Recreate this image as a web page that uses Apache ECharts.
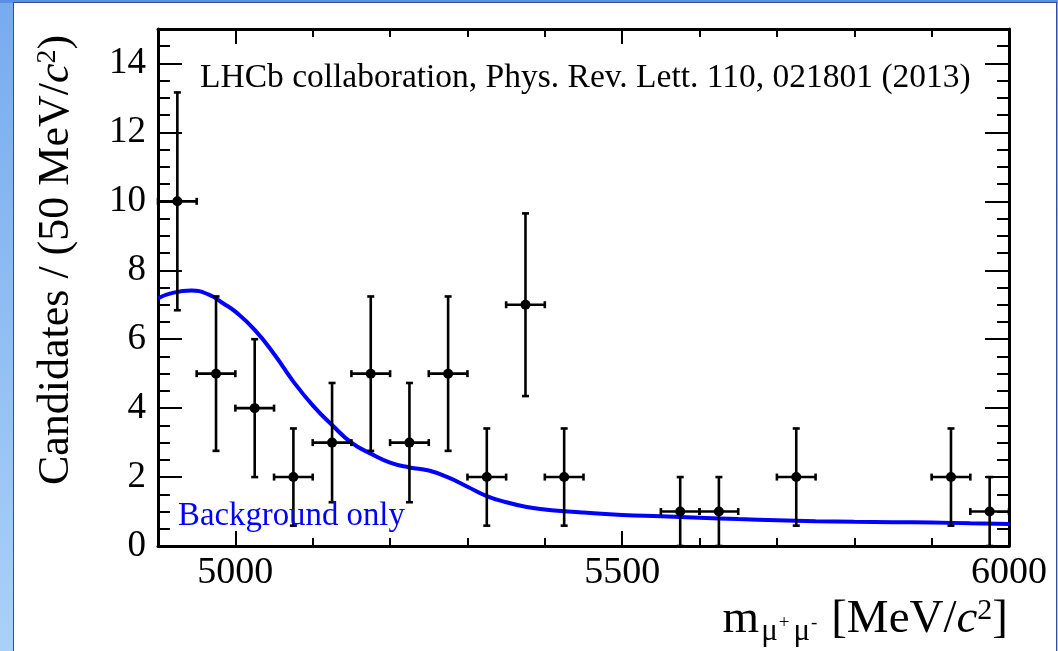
<!DOCTYPE html>
<html>
<head>
<meta charset="utf-8">
<script src="https://cdn.jsdelivr.net/npm/echarts@6/dist/echarts.min.js"></script>
<style>
  html, body { margin: 0; padding: 0; }
  body { width: 1058px; height: 651px; position: relative; overflow: hidden;
         background: linear-gradient(to bottom, #78abef 0%, #a9d1f8 100%); }
  #topstrip { position: absolute; left: 0; top: 0; width: 1058px; height: 3px; background: #5b8fe4; }
  #panel { position: absolute; left: 13px; top: 2px; width: 1042px; height: 650px;
           background: #ffffff; border-left: 1px solid #3b4a98; border-top: 1px solid #3b4a98; border-right: 1px solid #3b4a98; }
  #chart { position: absolute; left: 0; top: 0; width: 1058px; height: 651px; }
</style>
</head>
<body>
<div id="topstrip"></div>
<div id="panel"></div>
<div id="chart"></div>
<script>
// ---- data ----
const binCenters = [4925, 4975, 5025, 5075, 5125, 5175, 5225, 5275, 5325, 5375, 5425, 5575, 5625, 5725, 5925, 5975];
const counts     = [10, 5, 4, 2, 3, 5, 3, 5, 2, 7, 2, 1, 1, 2, 2, 1];
const countErrors = [3.16, 2.24, 2.0, 1.41, 1.73, 2.24, 1.73, 2.24, 1.41, 2.65, 1.41, 1.0, 1.0, 1.41, 1.41, 1.0];
const binHalfWidth = 25;

const fitMass = [4900, 4920, 4943, 4965, 4985, 5000, 5025, 5050, 5075, 5100, 5125, 5150, 5175, 5200, 5225, 5250, 5275, 5300, 5325, 5350, 5375, 5400, 5425, 5450, 5500, 5550, 5600, 5650, 5700, 5750, 5800, 5850, 5900, 5950, 6000];
const fitValues = [7.19, 7.35, 7.41, 7.30, 7.03, 6.80, 6.27, 5.57, 4.77, 4.08, 3.51, 3.00, 2.68, 2.42, 2.28, 2.19, 1.99, 1.72, 1.45, 1.27, 1.14, 1.06, 1.01, 0.97, 0.90, 0.86, 0.82, 0.78, 0.75, 0.72, 0.70, 0.69, 0.68, 0.66, 0.64];

const xTickLabels = [5000, 5500, 6000];
const yTickLabels = [0, 2, 4, 6, 8, 10, 12, 14];
const xRange = [4900, 6000];
const yRange = [0, 15];
const xMinorStep = 100;
const yMinorStep = 0.5;

const titleText = 'LHCb collaboration, Phys. Rev. Lett. 110, 021801 (2013)';
const fitLabel = 'Background only';

// ---- chart ----
const FONT = '"Liberation Serif", "Times New Roman", serif';
const chart = echarts.init(document.getElementById('chart'), null, { renderer: 'canvas' });

const pointData = binCenters.map((x, i) => [x, counts[i], countErrors[i]]);
const fitData = fitMass.map((x, i) => [x, fitValues[i]]);

function xAxisDef(pos, major) {
  const a = {
    type: 'value', position: pos, min: xRange[0], max: xRange[1],
    splitLine: { show: false },
    axisLine: { show: !major, onZero: false, lineStyle: { color: '#000', width: 3 } },
    axisTick: { show: true, inside: true, length: major ? 15 : 8, lineStyle: { color: '#000', width: 2 } },
    axisLabel: { show: false }
  };
  if (major) {
    a.axisTick.customValues = xTickLabels;
    if (pos === 'bottom') {
      a.axisLabel = { show: true, customValues: xTickLabels, formatter: v => String(v),
                      fontFamily: FONT, fontSize: 38, color: '#000', margin: 8 };
    }
  } else {
    a.interval = xMinorStep;
  }
  return a;
}
function yAxisDef(pos, major) {
  const a = {
    type: 'value', position: pos, min: yRange[0], max: yRange[1],
    splitLine: { show: false },
    axisLine: { show: !major, onZero: false, lineStyle: { color: '#000', width: 3 } },
    axisTick: { show: true, inside: true, length: major ? 24 : 12, lineStyle: { color: '#000', width: 2 } },
    axisLabel: { show: false }
  };
  if (major) {
    a.axisTick.customValues = yTickLabels;
    if (pos === 'left') {
      a.axisLabel = { show: true, customValues: yTickLabels, formatter: v => String(v),
                      fontFamily: FONT, fontSize: 37, color: '#000', margin: 12 };
    }
  } else {
    a.interval = yMinorStep;
  }
  return a;
}

const option = {
  animation: false,
  backgroundColor: 'transparent',
  grid: { left: 158, top: 29, right: 49, bottom: 105, containLabel: false },
  xAxis: [xAxisDef('bottom', false), xAxisDef('bottom', true), xAxisDef('top', false), xAxisDef('top', true)],
  yAxis: [yAxisDef('left', false), yAxisDef('left', true), yAxisDef('right', false), yAxisDef('right', true)],
  graphic: [
    { type: 'text', left: 200, top: 61, z: 100,
      style: { text: titleText, font: '33.5px ' + FONT, fill: '#000' } },
    { type: 'text', left: 178, top: 500, z: 100,
      style: { text: fitLabel, font: '32.8px ' + FONT, fill: '#0000ff' } },
    { type: 'text', x: 56, y: 260, rotation: Math.PI / 2, z: 100,
      style: {
        text: '{a|Candidates / (50 MeV/}{i|c}{s|2}{a|)}',
        align: 'center', verticalAlign: 'middle',
        rich: {
          a: { fontFamily: FONT, fontSize: 44, color: '#000' },
          i: { fontFamily: FONT, fontSize: 44, fontStyle: 'italic', color: '#000' },
          s: { fontFamily: FONT, fontSize: 28, color: '#000', verticalAlign: 'top' }
        }
      } },
    { type: 'text', x: 1008, y: 620, z: 100,
      style: {
        text: '{a|m}{b|μ}{p|+}{b|μ}{p|-}{a| [MeV/}{i|c}{s|2}{a|]}',
        align: 'right', verticalAlign: 'middle',
        rich: {
          a: { fontFamily: FONT, fontSize: 47, color: '#000' },
          i: { fontFamily: FONT, fontSize: 47, fontStyle: 'italic', color: '#000' },
          b: { fontFamily: FONT, fontSize: 31, color: '#000', verticalAlign: 'bottom', padding: [0, 1, -4, 2] },
          p: { fontFamily: FONT, fontSize: 19, color: '#000', verticalAlign: 'bottom', padding: [0, 2, 11, 0] },
          s: { fontFamily: FONT, fontSize: 30, color: '#000', verticalAlign: 'top' }
        }
      } }
  ],
  series: [
    {
      type: 'line', xAxisIndex: 0, yAxisIndex: 0, data: fitData,
      smooth: 0.5, showSymbol: false, z: 2,
      lineStyle: { color: '#0000ff', width: 4 }
    },
    {
      type: 'custom', xAxisIndex: 0, yAxisIndex: 0, data: pointData, z: 5,
      renderItem: function (params, api) {
        const x = api.value(0), y = api.value(1), e = api.value(2);
        const c = api.coord([x, y]);
        const top = api.coord([x, y + e]);
        const bot = api.coord([x, Math.max(y - e, 0)]);
        const l = api.coord([x - binHalfWidth, y]);
        const r = api.coord([x + binHalfWidth, y]);
        const st = { stroke: '#000', lineWidth: 2.6 };
        const cap = 3.5;
        const children = [
          { type: 'line', shape: { x1: c[0], y1: top[1], x2: c[0], y2: bot[1] }, style: st },
          { type: 'line', shape: { x1: l[0], y1: c[1], x2: r[0], y2: c[1] }, style: st },
          { type: 'line', shape: { x1: c[0] - cap, y1: top[1], x2: c[0] + cap, y2: top[1] }, style: st },
          { type: 'line', shape: { x1: c[0] - cap, y1: bot[1], x2: c[0] + cap, y2: bot[1] }, style: st },
          { type: 'line', shape: { x1: l[0], y1: c[1] - cap, x2: l[0], y2: c[1] + cap }, style: st },
          { type: 'line', shape: { x1: r[0], y1: c[1] - cap, x2: r[0], y2: c[1] + cap }, style: st },
          { type: 'circle', shape: { cx: c[0], cy: c[1], r: 5 }, style: { fill: '#000' } }
        ];
        return { type: 'group', children: children };
      }
    }
  ]
};
chart.setOption(option);
</script>
</body>
</html>
